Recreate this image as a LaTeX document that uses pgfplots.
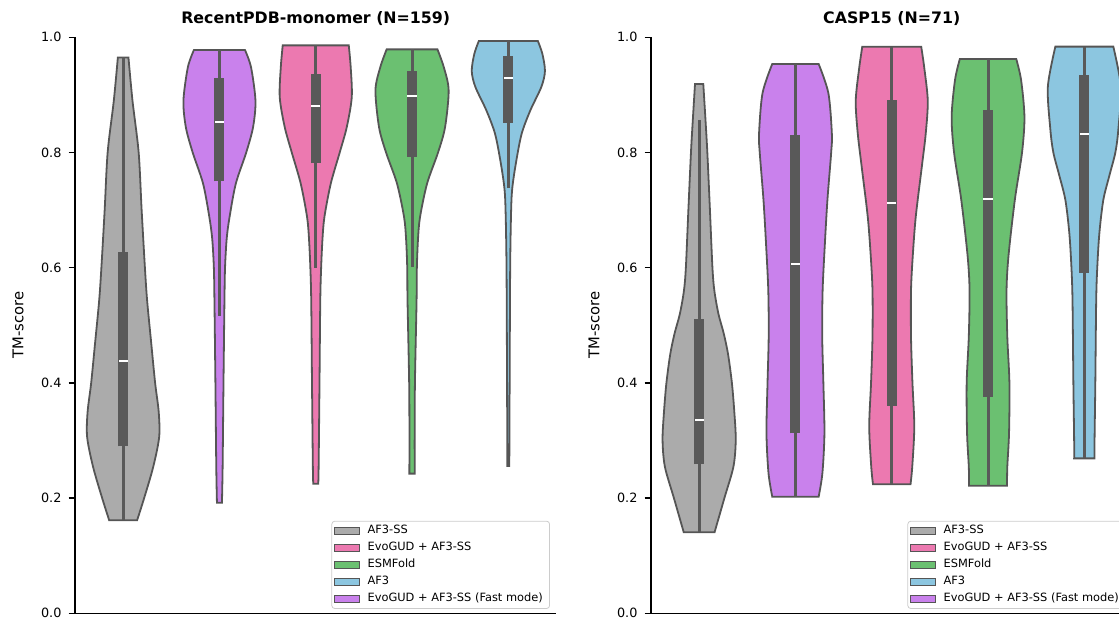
\documentclass[border=0pt]{standalone}
\usepackage{fontspec}
\setmainfont{DejaVu Sans}
\usepackage{pgfplots}
\pgfplotsset{compat=1.18}
\usepackage{pgfplotstable}
\usepgfplotslibrary{fillbetween}

\definecolor{cgray}{HTML}{ABABAB}
\definecolor{cpurple}{HTML}{C981EC}
\definecolor{cpink}{HTML}{EC79B0}
\definecolor{cgreen}{HTML}{6BC071}
\definecolor{cblue}{HTML}{8CC6E0}
\definecolor{cedge}{HTML}{555555}
\definecolor{cbox}{HTML}{595959}

% ---------- violin outlines: y value, half width (category units) ----------
\pgfplotstableread{
y w
0.1615 0.145
0.20 0.218
0.254 0.312
0.306 0.374
0.35 0.369
0.40 0.332
0.47 0.291
0.543 0.249
0.60 0.226
0.70 0.192
0.80 0.161
0.89 0.097
0.965 0.055
}\LA
\pgfplotstableread{
y w
0.192 0.026
0.254 0.033
0.40 0.042
0.543 0.052
0.60 0.058
0.65 0.075
0.688 0.105
0.746 0.170
0.80 0.278
0.844 0.349
0.89 0.374
0.948 0.328
0.978 0.265
}\LB
\pgfplotstableread{
y w
0.225 0.026
0.254 0.030
0.40 0.039
0.543 0.047
0.60 0.056
0.65 0.070
0.688 0.090
0.746 0.156
0.80 0.249
0.844 0.322
0.896 0.374
0.948 0.363
0.986 0.343
}\LC
\pgfplotstableread{
y w
0.2425 0.028
0.30 0.027
0.40 0.030
0.543 0.047
0.60 0.050
0.65 0.062
0.688 0.083
0.746 0.156
0.80 0.270
0.844 0.343
0.908 0.380
0.948 0.330
0.979 0.264
}\LD
\pgfplotstableread{
y w
0.2557 0.010
0.40 0.0135
0.60 0.019
0.70 0.029
0.74 0.042
0.786 0.083
0.833 0.139
0.873 0.228
0.914 0.343
0.9415 0.380
0.9715 0.353
0.9937 0.306
}\LE
\pgfplotstableread{
y w
0.1406 0.160
0.20 0.262
0.2546 0.356
0.301 0.380
0.35 0.365
0.40 0.340
0.45 0.300
0.486 0.255
0.52 0.200
0.56 0.158
0.60 0.138
0.70 0.112
0.80 0.085
0.856 0.066
0.919 0.043
}\RA
\pgfplotstableread{
y w
0.2025 0.241
0.2435 0.280
0.313 0.301
0.40 0.290
0.48 0.278
0.56 0.282
0.64 0.305
0.7176 0.332
0.80 0.371
0.833 0.378
0.903 0.342
0.9537 0.241
}\RB
\pgfplotstableread{
y w
0.224 0.195
0.2546 0.213
0.324 0.234
0.40 0.215
0.48 0.200
0.56 0.200
0.62 0.218
0.688 0.249
0.775 0.312
0.833 0.353
0.89 0.374
0.948 0.337
0.9837 0.306
}\RC
\pgfplotstableread{
y w
0.2216 0.197
0.2546 0.200
0.313 0.218
0.40 0.222
0.48 0.200
0.56 0.192
0.62 0.212
0.7176 0.278
0.80 0.353
0.862 0.378
0.926 0.343
0.9623 0.293
}\RD
\pgfplotstableread{
y w
0.269 0.106
0.30 0.106
0.40 0.114
0.543 0.123
0.60 0.134
0.66 0.156
0.7176 0.197
0.76 0.260
0.80 0.322
0.84 0.353
0.914 0.379
0.9838 0.301
}\RE

% ---------- inner boxes: whisker low, Q1, median, Q3, whisker high ----------
\pgfplotstableread{
x lo q1 med q3 hi
0 0.1615 0.290 0.4375 0.627 0.965
1 0.517 0.750 0.853 0.930 0.978
2 0.600 0.781 0.881 0.937 0.986
3 0.601 0.793 0.898 0.9415 0.979
4 0.738 0.852 0.929 0.967 0.994
}\BoxL
\pgfplotstableread{
x lo q1 med q3 hi
0 0.1406 0.259 0.3356 0.511 0.856
1 0.2025 0.3125 0.606 0.830 0.9537
2 0.224 0.360 0.712 0.891 0.9837
3 0.2216 0.376 0.719 0.874 0.9623
4 0.269 0.5914 0.832 0.9345 0.9838
}\BoxR

\newcommand{\violin}[4]{%
 \addplot[draw=none, smooth, forget plot, name path=vr#4] table[x expr=#1+\thisrow{w}, y=y] {#2};
 \addplot[draw=none, smooth, forget plot, name path=vl#4] table[x expr=#1-\thisrow{w}, y=y] {#2};
 \addplot[fill=#3, draw=cedge, line width=0.9pt, forget plot] fill between[of=vr#4 and vl#4, reverse=true];
}
\newcommand{\inner}[1]{%
 \addplot[draw=none, no markers, forget plot, error bars/.cd, y dir=plus, y explicit, error mark=none,
   error bar style={draw=cbox, line width=1.5pt}] table[x=x, y=lo, y error expr=\thisrow{hi}-\thisrow{lo}] {#1};
 \addplot[draw=none, no markers, forget plot, error bars/.cd, y dir=plus, y explicit, error mark=none,
   error bar style={draw=cbox, line width=5pt}] table[x=x, y=q1, y error expr=\thisrow{q3}-\thisrow{q1}] {#1};
 \addplot[only marks, mark=-, mark size=2.3pt, white, mark options={line width=1pt}, forget plot] table[x=x, y=med] {#1};
}
\newcommand{\legendentries}{%
 \addlegendimage{fill=cgray, draw=cedge}\addlegendentry{AF3-SS}
 \addlegendimage{fill=cpink, draw=cedge}\addlegendentry{EvoGUD + AF3-SS}
 \addlegendimage{fill=cgreen, draw=cedge}\addlegendentry{ESMFold}
 \addlegendimage{fill=cblue, draw=cedge}\addlegendentry{AF3}
 \addlegendimage{fill=cpurple, draw=cedge}\addlegendentry{\makebox[89pt][l]{EvoGUD + AF3-SS (Fast mode)}}
}

\pgfplotsset{vstyle/.style={
 scale only axis, width=240.75pt, height=288pt,
 xmin=-0.5, xmax=4.5, ymin=0, ymax=1,
 axis x line*=bottom, axis y line*=left,
 axis line style={-, line width=0.7pt, black},
 xtick=\empty, ytick={0,0.2,0.4,0.6,0.8,1},
 tick align=outside, major tick length=3.25pt,
 tick style={line width=0.7pt, black},
 tick label style={font=\fontsize{6.4}{7.5}\selectfont},
 yticklabel style={/pgf/number format/.cd, fixed, fixed zerofill, precision=1, assume math mode=true},
 ylabel={TM-score},
 ylabel style={font=\fontsize{7.4}{8.5}\selectfont, at={(axis description cs:-0.1184,0.5)}, anchor=center},
 every axis title shift=0pt,
 title style={font=\bfseries\fontsize{7.9}{9}\selectfont, at={(axis description cs:0.5,1)}, anchor=center, yshift=9.25pt},
 legend style={at={(1,0)}, anchor=south east, xshift=-3.25pt, yshift=2.2pt,
   draw=black!20, fill=white, rounded corners=1.5pt,
   font=\fontsize{5.7}{6.2}\selectfont, inner sep=1.2pt, row sep=1.1pt,
   nodes={inner sep=0.8pt}},
 legend cell align=left,
 legend image code/.code={\draw[##1, sharp corners, line width=0.6pt] (0pt,-1.75pt) rectangle (12.5pt,1.75pt); \path (0pt,0pt) (15.4pt,0pt);},
 clip=false,
}}

\begin{document}
\begin{tikzpicture}
\begin{axis}[vstyle, at={(37.5pt,3.85pt)}, anchor=south west, title={RecentPDB-monomer (N=159)}]
 \violin{0}{\LA}{cgray}{la}
 \violin{1}{\LB}{cpurple}{lb}
 \violin{2}{\LC}{cpink}{lc}
 \violin{3}{\LD}{cgreen}{ld}
 \violin{4}{\LE}{cblue}{le}
 \inner{\BoxL}
 \legendentries
\end{axis}
\begin{axis}[vstyle, at={(325.5pt,3.85pt)}, anchor=south west, title={CASP15 (N=71)}]
 \violin{0}{\RA}{cgray}{ra}
 \violin{1}{\RB}{cpurple}{rb}
 \violin{2}{\RC}{cpink}{rc}
 \violin{3}{\RD}{cgreen}{rd}
 \violin{4}{\RE}{cblue}{re}
 \inner{\BoxR}
 \legendentries
\end{axis}
\pgfresetboundingbox
\useasboundingbox (0pt,0pt) rectangle (559.5pt,310.5pt);
\end{tikzpicture}
\end{document}
